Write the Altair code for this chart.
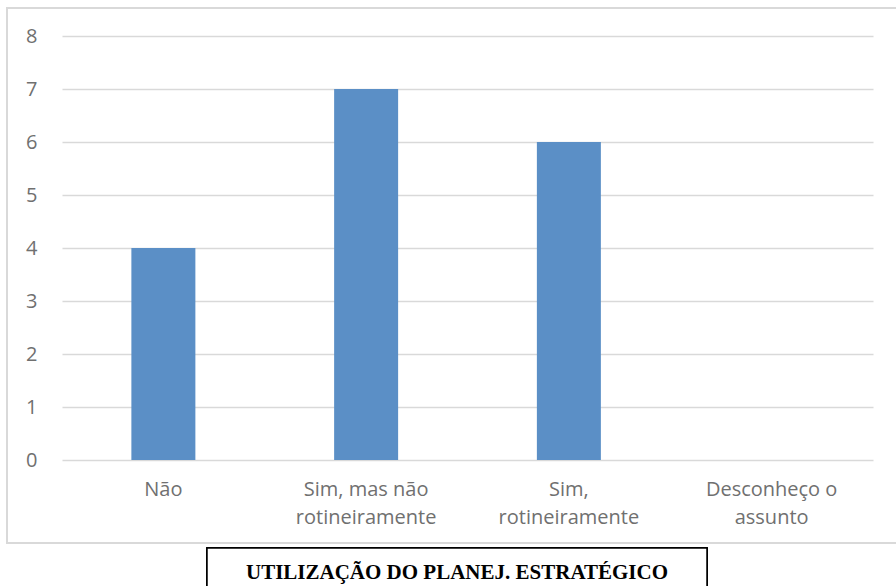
import altair as alt
import pandas as pd

categories = ["Não", "Sim, mas não\nrotineiramente", "Sim,\nrotineiramente", "Desconheço o\nassunto"]
values = [4, 7, 6, 0]
y_ticks = [0, 1, 2, 3, 4, 5, 6, 7, 8]
title_text = "UTILIZAÇÃO DO PLANEJ. ESTRATÉGICO"

df = pd.DataFrame({"cat": categories, "val": values})

W, H = 811, 424

bars = alt.Chart(df).mark_bar(size=64, color="#5B8FC6").encode(
    x=alt.X("cat:N", sort=None, title=None,
            axis=alt.Axis(labelExpr="split(datum.label, '\\n')", labelAngle=0,
                          labelFont="Open Sans", labelFontSize=20, labelColor="#707070",
                          labelLineHeight=28, labelPadding=19, labelBaseline="top",
                          domain=False, ticks=False, grid=False)),
    y=alt.Y("val:Q", title=None, scale=alt.Scale(domain=[0, 8], nice=False),
            axis=alt.Axis(values=y_ticks, labelFont="Open Sans", labelFontSize=20,
                          labelColor="#707070", labelPadding=25, domain=False, ticks=False,
                          grid=True, gridColor="#d9d9d9", gridWidth=1.3)),
)

border = alt.Chart(df).mark_rect(fill=None, stroke="#d9d9d9", strokeWidth=2).encode(
    x=alt.value(-55), x2=alt.value(850), y=alt.value(-28), y2=alt.value(507)
)

box = alt.Chart(df).mark_rect(fill="white", stroke="black", strokeWidth=1.5).encode(
    x=alt.value(145), x2=alt.value(645), y=alt.value(512), y2=alt.value(560)
)

title = alt.Chart(pd.DataFrame({"t": [title_text]})).mark_text(
    font="Liberation Serif", fontWeight="bold", fontSize=21, color="black",
    align="center", baseline="middle"
).encode(x=alt.value(395), y=alt.value(537), text="t:N")

chart = alt.layer(border, bars, box, title).properties(
    width=W, height=H,
    padding={"left": 62, "top": 36, "right": 23, "bottom": 126},
    autosize=alt.AutoSizeParams(type="none"),
).configure(background="white", view=alt.ViewConfig(stroke=None))

chart.save("out.html", embed_options={"renderer": "svg", "actions": False})
